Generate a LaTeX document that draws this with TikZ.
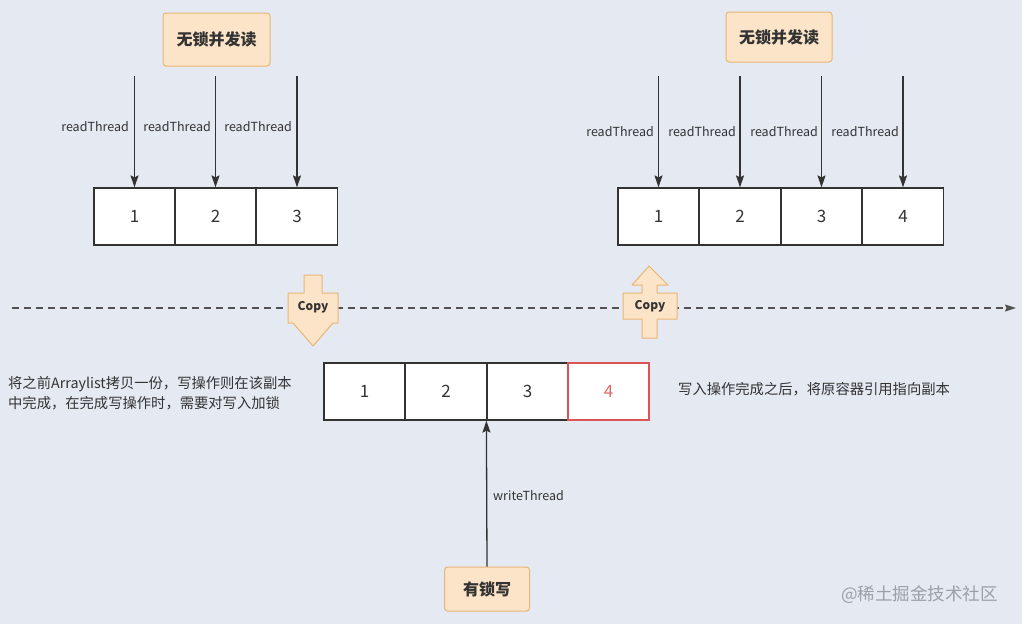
\documentclass[tikz,border=0pt]{standalone}
\usepackage{fontspec}
\setmainfont{Noto Sans CJK SC}
\usetikzlibrary{arrows.meta}
\definecolor{bg}{HTML}{E4E9F2}
\definecolor{boxfill}{HTML}{FCE4C8}
\definecolor{boxline}{HTML}{E9B575}
\definecolor{ink}{HTML}{333333}
\definecolor{redc}{HTML}{E06A6A}
\definecolor{redb}{HTML}{D95555}
\definecolor{wm}{HTML}{9AA0AA}
\tikzset{
  cell/.style={draw=ink, line width=1.2pt, fill=white, minimum width=81pt, minimum height=57pt, inner sep=0pt, font=\fontsize{17}{20}\selectfont, text=ink},
  redcell/.style={cell, draw=redb, line width=1.7pt, text=redc},
  tag/.style={draw=boxline, line width=1pt, fill=boxfill, rounded corners=3pt, inner sep=0pt, font=\fontsize{16}{19}\selectfont\bfseries, text=ink},
  thr/.style={draw=ink, line width=1.3pt, -{Stealth[length=12pt,width=8pt,inset=2pt]}},
  lbl/.style={font=\fontsize{12.5}{15}\selectfont, text=ink, inner sep=0pt},
  note/.style={font=\fontsize{14.3}{20}\selectfont, text=ink, inner sep=0pt, align=left},
  copyshape/.style={draw=boxline, line width=1pt, fill=boxfill, line join=round},
  copytxt/.style={font=\fontsize{12}{14}\selectfont\bfseries, text=ink, inner sep=0pt}
}
\begin{document}
\begin{tikzpicture}[x=1pt,y=-1pt]
\fill[bg] (0,0) rectangle (1022,624);
\useasboundingbox (0,0) rectangle (1022,624);

% top-left group
\node[tag, minimum width=107pt, minimum height=53pt] (tl) at (216.5,39.5) {无锁并发读};
\node[cell] (a1) at (134.5,216.5) {1};
\node[cell] (a2) at (215.5,216.5) {2};
\node[cell] (a3) at (297,216.5) {3};
\coordinate (ta1) at (134.5,76);
\coordinate (ta2) at (215.5,76);
\coordinate (ta3) at (297,76);
\draw[thr] (ta1) -- (a1.north);
\draw[thr] (ta2) -- (a2.north);
\draw[thr] (ta3) -- (a3.north);
\node[lbl, anchor=east] (la1) at (129,127) {readThread};
\node[lbl, anchor=east] (la2) at (211,127) {readThread};
\node[lbl, anchor=east] (la3) at (292,127) {readThread};

% top-right group
\node[tag, minimum width=106pt, minimum height=50pt] (tr) at (779,37) {无锁并发读};
\node[cell] (b1) at (658.5,216.5) {1};
\node[cell] (b2) at (740,216.5) {2};
\node[cell] (b3) at (821.5,216.5) {3};
\node[cell] (b4) at (903,216.5) {4};
\coordinate (tb1) at (658.5,76);
\coordinate (tb2) at (740,76);
\coordinate (tb3) at (821.5,76);
\coordinate (tb4) at (903,76);
\draw[thr] (tb1) -- (b1.north);
\draw[thr] (tb2) -- (b2.north);
\draw[thr] (tb3) -- (b3.north);
\draw[thr] (tb4) -- (b4.north);
\node[lbl, anchor=east] (lb1) at (654,132) {readThread};
\node[lbl, anchor=east] (lb2) at (736,132) {readThread};
\node[lbl, anchor=east] (lb3) at (818,132) {readThread};
\node[lbl, anchor=east] (lb4) at (899,132) {readThread};

% dashed timeline
\coordinate (d0) at (12,308);
\coordinate (d1) at (1016,308);
\draw[draw=ink!85, line width=1.2pt, dash pattern=on 7pt off 5pt, -{Stealth[length=11pt,width=7pt,inset=1.5pt]}] (d0) -- (d1);

% Copy down arrow
\draw[copyshape] (304,275) -- (322,275) -- (322,293) -- (338,293) -- (338,323) -- (333,323)
  -- (313,346) -- (293,323) -- (288,323) -- (288,293) -- (304,293) -- cycle;
\node[copytxt] (cd) at (313,307) {Copy};

% Copy up arrow
\draw[copyshape] (649,266) -- (668,285) -- (657,285) -- (657,293) -- (677,293) -- (677,319)
  -- (657,319) -- (657,338) -- (642,338) -- (642,319) -- (623,319) -- (623,293)
  -- (642,293) -- (642,285) -- (632,285) -- cycle;
\node[copytxt] (cu) at (650,306) {Copy};

% bottom copy array
\node[cell] (c1) at (364.5,391.5) {1};
\node[cell] (c2) at (446,391.5) {2};
\node[cell] (c3) at (527.5,391.5) {3};
\node[redcell, minimum width=81pt, minimum height=56.5pt] (c4) at (608.5,391.5) {4};

\node[note, anchor=north west] (nl) at (8,376) {将之前Arraylist拷贝一份，写操作则在该副本\\中完成，在完成写操作时，需要对写入加锁};
\node[note, anchor=west] (nr) at (678,389) {写入操作完成之后，将原容器引用指向副本};

% write thread
\node[tag, minimum width=85pt, minimum height=44pt] (wr) at (487,589) {有锁写};
\draw[thr] (wr.north) -- (c3.south west);
\node[lbl, anchor=west] (lw) at (493,496) {writeThread};

% watermark
\node[font=\fontsize{17.5}{20}\selectfont, text=wm, anchor=west, inner sep=0pt] (wmk) at (841,595) {@稀土掘金技术社区};
\end{tikzpicture}
\end{document}
